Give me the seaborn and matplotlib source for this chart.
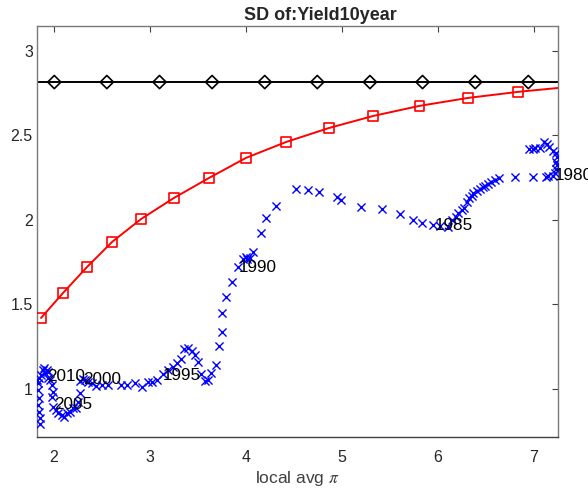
import matplotlib
matplotlib.use("Agg")
import matplotlib.pyplot as plt
import seaborn as sns

# Rolling SD of the 10-year yield against local average inflation
traj_pi = [
    6.948, 6.990, 7.011, 7.063, 7.104, 7.136, 7.156, 7.198, 7.229, 7.240,
    7.229, 7.240, 7.229, 7.219, 7.198, 7.146, 7.125, 6.990, 6.802, 6.636,
    6.594, 6.553, 6.522, 6.490, 6.469, 6.438, 6.407, 6.366, 6.355, 6.324,
    6.303, 6.272, 6.251, 6.209, 6.189, 6.147, 6.105, 6.022, 5.949, 5.835,
    5.741, 5.606, 5.418, 5.200, 4.992, 4.950, 4.763, 4.648, 4.524, 4.315,
    4.211, 4.159, 4.076, 4.045, 4.014, 3.972, 4.003, 3.920, 3.858, 3.795,
    3.753, 3.753, 3.722, 3.691, 3.639, 3.608, 3.577, 3.535, 3.504, 3.473,
    3.441, 3.400, 3.358, 3.327, 3.285, 3.244, 3.192, 3.140, 3.077, 3.025,
    2.983, 2.921, 2.848, 2.765, 2.702, 2.567, 2.505, 2.442, 2.401, 2.359,
    2.328, 2.307, 2.276, 2.276, 2.255, 2.234, 2.203, 2.172, 2.141, 2.109,
    2.089, 2.047, 2.026, 1.995, 1.984, 1.995, 1.984, 1.964, 1.943, 1.912,
    1.891, 1.932, 1.901, 1.943, 1.870, 1.849, 1.839, 1.839, 1.849, 1.839,
    1.849, 1.860, 1.860, 1.828,
]
traj_sd = [
    2.420, 2.420, 2.426, 2.426, 2.461, 2.450, 2.432, 2.408, 2.396, 2.373,
    2.343, 2.325, 2.302, 2.278, 2.260, 2.260, 2.254, 2.254, 2.254, 2.248,
    2.236, 2.225, 2.213, 2.201, 2.195, 2.183, 2.171, 2.159, 2.142, 2.130,
    2.106, 2.070, 2.059, 2.041, 2.017, 2.000, 1.958, 1.964, 1.970, 1.982,
    2.000, 2.035, 2.065, 2.076, 2.118, 2.136, 2.165, 2.177, 2.183, 2.082,
    2.011, 1.922, 1.810, 1.774, 1.768, 1.768, 1.780, 1.721, 1.632, 1.543,
    1.448, 1.336, 1.253, 1.140, 1.093, 1.052, 1.046, 1.087, 1.158, 1.200,
    1.223, 1.241, 1.235, 1.176, 1.152, 1.128, 1.111, 1.087, 1.052, 1.040,
    1.040, 1.010, 1.034, 1.022, 1.022, 1.022, 1.022, 1.016, 1.034, 1.040,
    1.052, 1.057, 1.046, 0.975, 0.921, 0.886, 0.886, 0.862, 0.856, 0.832,
    0.844, 0.856, 0.874, 0.892, 0.951, 0.980, 1.022, 1.052, 1.063, 1.093,
    1.111, 1.111, 1.123, 1.099, 1.081, 1.063, 1.034, 0.992, 0.945, 0.903,
    0.862, 0.826, 0.791, 1.052,
]

# Year annotations along the trajectory
years = ["1980", "1985", "1990", "1995", "2000", "2005", "2010"]
year_pi = [7.211, 5.963, 3.930, 3.140, 2.304, 2.005, 1.929]
year_sd = [2.260, 1.964, 1.715, 1.081, 1.057, 0.909, 1.071]

# Model-implied SD curve (square markers) and its end point at the right edge
model_pi = [1.870, 2.099, 2.349, 2.609, 2.911, 3.254, 3.618, 4.003, 4.420,
            4.867, 5.325, 5.809, 6.313, 6.834]
model_sd = [1.419, 1.567, 1.721, 1.869, 2.005, 2.130, 2.248, 2.367, 2.461,
            2.544, 2.615, 2.675, 2.722, 2.758]
model_end_pi = [7.250]
model_end_sd = [2.781]

# Unconditional SD (constant) with diamond markers
uncond_pi = [2.008, 2.555, 3.103, 3.650, 4.198, 4.745, 5.293, 5.840, 6.388, 6.941]
uncond_sd = [2.816] * len(uncond_pi)
uncond_span = [1.828, 7.250]

xticks = [2, 3, 4, 5, 6, 7]
yticks = [1, 1.5, 2, 2.5, 3]
ytick_labels = ["1", "1.5", "2", "2.5", "3"]

sns.set_style("white")
plt.rcParams["font.family"] = ["Liberation Sans", "DejaVu Sans"]
plt.rcParams["mathtext.fontset"] = "stix"

fig = plt.figure(figsize=(5.88, 4.88), dpi=100)
ax = fig.add_axes([37 / 588, 1 - 437 / 488, 521 / 588, 411 / 488])

# constant line
sns.lineplot(x=uncond_span, y=[uncond_sd[0]] * 2, color="black", linewidth=1.4, ax=ax)
sns.scatterplot(x=uncond_pi, y=uncond_sd, marker="D", s=45, facecolor="none",
                edgecolor="black", linewidth=1.2, ax=ax, zorder=3)

# model curve
sns.lineplot(x=model_pi + model_end_pi, y=model_sd + model_end_sd, color="red",
             linewidth=1.4, sort=False, ax=ax)
sns.scatterplot(x=model_pi, y=model_sd, marker="s", s=45, facecolor="none",
                edgecolor="red", linewidth=1.2, ax=ax, zorder=3)

# data trajectory
sns.scatterplot(x=traj_pi, y=traj_sd, marker="x", s=34, color="blue",
                linewidth=1.0, ax=ax, zorder=3)

for lab, px, py in zip(years, year_pi, year_sd):
    ax.text(px, py, lab, ha="left", va="center", fontsize=12.3, color="black",
            clip_on=False, zorder=4)

ax.set_xlim(1.828, 7.250)
ax.set_ylim(0.714, 3.148)
ax.set_xticks(xticks)
ax.set_yticks(yticks)
ax.set_yticklabels(ytick_labels)
ax.tick_params(direction="in", length=4, width=0.8, labelsize=11.5,
               top=True, right=True, colors="#404040", labelcolor="#262626")
ax.tick_params(axis="x", pad=9)
ax.tick_params(axis="y", pad=3)
for side in ["left", "right", "top", "bottom"]:
    ax.spines[side].set_visible(True)
    ax.spines[side].set_color("#7a7a7a")
    ax.spines[side].set_linewidth(1.0)
ax.spines["bottom"].set_color("#404040")

ax.set_title("SD of:Yield10year", fontsize=13, fontweight="bold", pad=4,
             x=0.543)
ax.set_xlabel(r"local avg $\pi$", fontsize=12.5, color="#404040", labelpad=3)
ax.set_ylabel("")

fig.savefig("out.png", dpi=100)
